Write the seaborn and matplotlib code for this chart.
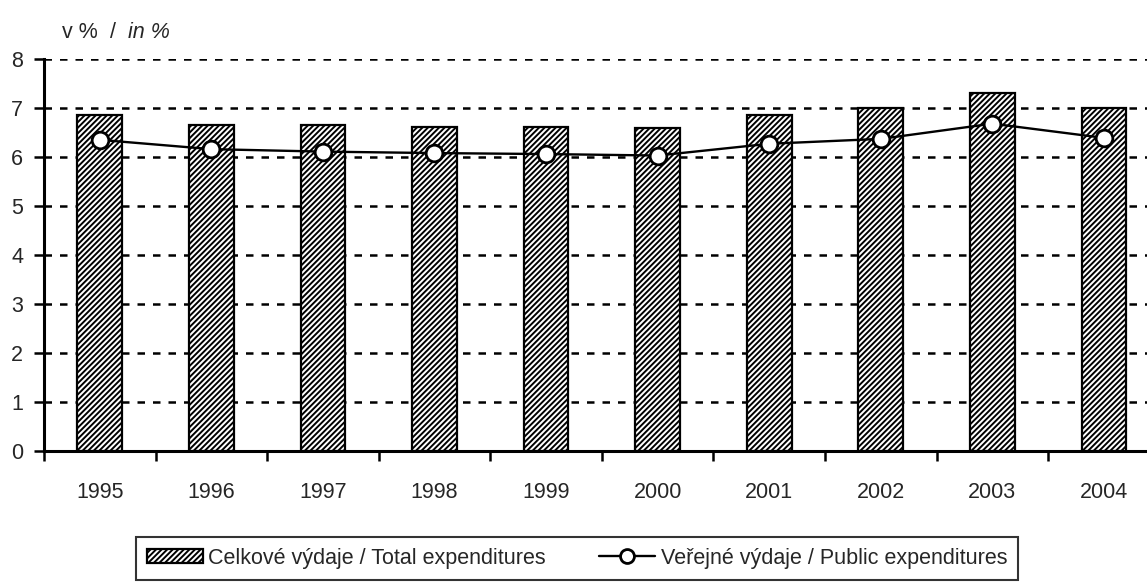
import matplotlib
matplotlib.use("Agg")
import matplotlib.pyplot as plt
import seaborn as sns
import pandas as pd

sns.set_style("white")
plt.rcParams["font.family"] = ["Liberation Sans Narrow", "Liberation Sans", "DejaVu Sans"]
plt.rcParams["hatch.linewidth"] = 1.4
plt.rcParams["hatch.color"] = "#6a6a6a"

# Data
years = ["1995", "1996", "1997", "1998", "1999", "2000", "2001", "2002", "2003", "2004"]
total_exp = [6.86, 6.66, 6.66, 6.62, 6.61, 6.59, 6.86, 6.99, 7.31, 7.00]
public_exp = [6.35, 6.16, 6.11, 6.08, 6.06, 6.03, 6.27, 6.37, 6.68, 6.39]
yticks = [0, 1, 2, 3, 4, 5, 6, 7, 8]

df = pd.DataFrame({"year": years, "total": total_exp, "public": public_exp})

W, H = 1147, 588
fig = plt.figure(figsize=(W / 100, H / 100), dpi=100)
ax = fig.add_axes([44 / W, 1 - 451 / H, (1159.7 - 44) / W, (451 - 59) / H])

# bars
sns.barplot(data=df, x="year", y="total", ax=ax, color="white", width=0.40,
            edgecolor="black", linewidth=1.6, hatch="//////", zorder=2,
            label="Celkové výdaje / Total expenditures")

# line
ax.plot(range(len(years)), df["public"], color="black", linewidth=1.7,
        marker="o", markersize=12, markerfacecolor="white",
        markeredgecolor="black", markeredgewidth=2, zorder=4,
        label="Veřejné výdaje / Public expenditures")

ax.set_xlim(-0.5, len(years) - 0.5)
ax.set_ylim(0, 8)
ax.set_yticks(yticks)
ax.set_yticklabels([str(t) for t in yticks])

# category boundaries as major ticks, labels at centers
ax.set_xticks([i - 0.5 for i in range(len(years) + 1)])
ax.set_xticklabels([])
ax.set_xticks(range(len(years)), minor=True)
ax.set_xticklabels(years, minor=True)
ax.tick_params(axis="x", which="major", direction="out", length=7, width=1.8, color="black")
ax.tick_params(axis="x", which="minor", length=0, pad=22, labelsize=15.5)
ax.tick_params(axis="y", direction="out", length=7, width=1.8, color="black", pad=8, labelsize=15.5)
ax.tick_params(left=True, bottom=True)

ax.set_xlabel("")
ax.set_ylabel("")

ax.yaxis.grid(True, color="black", linestyle=(0, (3, 3.2)), linewidth=1.8)
ax.xaxis.grid(False)
ax.set_axisbelow(True)

for side in ["top", "right"]:
    ax.spines[side].set_visible(False)
ax.spines["left"].set_linewidth(2.2)
ax.spines["bottom"].set_linewidth(2.2)
ax.spines["left"].set_color("black")
ax.spines["bottom"].set_color("black")

fig.text(62 / W, 1 - 32 / H, "v %", fontsize=15.5, va="center", ha="left")
fig.text(110 / W, 1 - 32 / H, "/", fontsize=15.5, va="center", ha="left")
fig.text(128 / W, 1 - 32 / H, "in %", fontsize=15.5, va="center", ha="left", style="italic")

handles, labels = ax.get_legend_handles_labels()
order = [labels.index("Celkové výdaje / Total expenditures"),
         labels.index("Veřejné výdaje / Public expenditures")]
leg = ax.legend([handles[i] for i in order], [labels[i] for i in order],
                loc="upper center", bbox_to_anchor=(577 / W, 1 - 537 / H),
                bbox_transform=fig.transFigure, ncol=2, fontsize=15.5,
                frameon=True, fancybox=False, edgecolor="black",
                handlelength=2.6, handleheight=0.65, columnspacing=2.5,
                handletextpad=0.25, borderpad=0.5, borderaxespad=0)
leg.get_frame().set_linewidth(1.5)
for h in leg.legend_handles:
    if hasattr(h, "set_markersize"):
        h.set_markersize(10)

fig.savefig("out.png", dpi=100)
